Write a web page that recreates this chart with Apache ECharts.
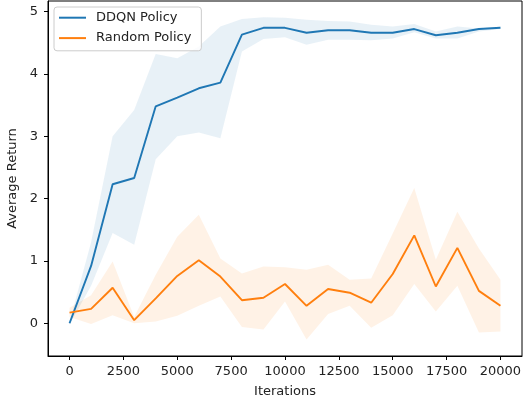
<!DOCTYPE html>
<html>
<head>
<meta charset="utf-8">
<script src="https://cdn.jsdelivr.net/npm/echarts@6/dist/echarts.min.js"></script>
<style>
html,body{margin:0;padding:0;background:#fff;}
#c{width:527px;height:402px;}
</style>
</head>
<body>
<div id="c"></div>
<script>
var iterations = [0,1000,2000,3000,4000,5000,6000,7000,8000,9000,10000,11000,12000,13000,14000,15000,16000,17000,18000,19000,20000];
var ddqnMean  = [0.00,0.92,2.23,2.33,3.48,3.62,3.77,3.86,4.63,4.74,4.74,4.66,4.70,4.70,4.66,4.66,4.72,4.62,4.66,4.72,4.74];
var ddqnUpper = [0.02,1.30,3.00,3.42,4.32,4.25,4.44,4.76,4.88,4.91,4.90,4.87,4.85,4.84,4.79,4.76,4.80,4.68,4.76,4.73,4.76];
var ddqnLower = [-0.02,0.60,1.45,1.26,2.63,3.00,3.06,2.97,4.36,4.56,4.59,4.47,4.55,4.55,4.54,4.57,4.67,4.57,4.57,4.68,4.72];
var randMean  = [0.17,0.23,0.57,0.05,0.40,0.76,1.01,0.75,0.37,0.41,0.63,0.28,0.55,0.49,0.33,0.79,1.41,0.59,1.21,0.52,0.28];
var randUpper = [0.25,0.45,0.99,0.10,0.78,1.39,1.74,1.04,0.80,0.91,0.90,0.86,0.94,0.70,0.72,1.44,2.17,1.02,1.79,1.20,0.70];
var randLower = [0.10,-0.01,0.13,0.00,0.03,0.12,0.28,0.43,-0.06,-0.10,0.35,-0.26,0.15,0.28,-0.07,0.13,0.63,0.19,0.60,-0.15,-0.13];
var xTicks = [0,2500,5000,7500,10000,12500,15000,17500,20000];
var yTicks = [0,1,2,3,4,5];

function pairs(ys){ return iterations.map(function(x,i){ return [x, ys[i]]; }); }
function triples(lo, hi){ return iterations.map(function(x,i){ return [x, lo[i], hi[i]]; }); }

var FONT = 'DejaVu Sans';
var FS = 13;
var BLUE = '#1f77b4', ORANGE = '#ff7f0e';

function bandSeries(lower, upper, color){
  return {
    type:'custom', silent:true, z:1,
    data: triples(lower, upper),
    encode:{x:0, y:[1,2]},
    renderItem:function(params, api){
      if (params.dataIndex !== 0) return null;
      var n = params.dataInsideLength;
      var top = [], bot = [];
      for (var i = 0; i < n; i++){
        var x = api.value(0, i);
        top.push(api.coord([x, api.value(2, i)]));
        bot.push(api.coord([x, api.value(1, i)]));
      }
      var pts = top.concat(bot.reverse());
      return {
        type:'polygon',
        shape:{points:pts},
        style:{fill:color, opacity:0.1},
        clipPath:{type:'rect', shape:{x:params.coordSys.x, y:params.coordSys.y, width:params.coordSys.width, height:params.coordSys.height}}
      };
    }
  };
}

var chart = echarts.init(document.getElementById('c'), null, {renderer:'canvas'});
var series = [
  bandSeries(ddqnLower, ddqnUpper, BLUE),
  {name:'DDQN Policy', type:'line', data:pairs(ddqnMean), symbol:'none', lineStyle:{color:BLUE, width:1.9}, itemStyle:{color:BLUE}, z:3},
  bandSeries(randLower, randUpper, ORANGE),
  {name:'Random Policy', type:'line', data:pairs(randMean), symbol:'none', lineStyle:{color:ORANGE, width:1.9}, itemStyle:{color:ORANGE}, z:3}
];

chart.setOption({
  animation:false,
  backgroundColor:'#fff',
  textStyle:{fontFamily:FONT},
  grid:{left:48, right:5, top:1, bottom:46, show:true, borderColor:'#000', borderWidth:1, backgroundColor:'transparent',
        containLabel:false, outerBoundsMode:'none'},
  legend:{
    data:['DDQN Policy','Random Policy'],
    orient:'vertical', left:54, top:7,
    icon:'rect', itemWidth:27, itemHeight:2, itemGap:5,
    padding:[3,10,5,5],
    borderColor:'#cccccc', borderWidth:1, borderRadius:3,
    backgroundColor:'rgba(255,255,255,0.8)',
    textStyle:{fontFamily:FONT, fontSize:FS, color:'#222', lineHeight:15.4, padding:[0,0,0,5]}
  },
  xAxis:{
    type:'value', min:-1000, max:21000,
    name:'Iterations', nameLocation:'middle', nameGap:29,
    nameTextStyle:{fontFamily:FONT, fontSize:FS, color:'#222'},
    axisLine:{show:true, onZero:false, lineStyle:{color:'#000', width:1}},
    axisTick:{show:true, length:4, customValues:xTicks, lineStyle:{color:'#000'}},
    axisLabel:{customValues:xTicks, margin:9, fontFamily:FONT, fontSize:FS, color:'#222',
      formatter:function(v){ return String(v); }},
    splitLine:{show:false}
  },
  yAxis:{
    type:'value', min:-0.525, max:5.17,
    name:'Average Return', nameLocation:'middle', nameGap:25,
    nameTextStyle:{fontFamily:FONT, fontSize:FS, color:'#222'},
    axisLine:{show:true, onZero:false, lineStyle:{color:'#000', width:1}},
    axisTick:{show:true, length:4, customValues:yTicks, lineStyle:{color:'#000'}},
    axisLabel:{customValues:yTicks, margin:10, fontFamily:FONT, fontSize:FS, color:'#222',
      formatter:function(v){ return String(v); }},
    splitLine:{show:false}
  },
  series:series
});
</script>
</body>
</html>
